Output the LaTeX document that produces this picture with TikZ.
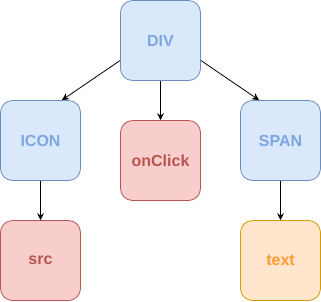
\documentclass[tikz,border=0pt]{standalone}
\usepackage{fontspec}
\setmainfont{Liberation Sans}
\usetikzlibrary{arrows.meta}
\definecolor{bfill}{HTML}{DAE8FC}
\definecolor{bdraw}{HTML}{6C8EBF}
\definecolor{btext}{HTML}{7EA6E0}
\definecolor{rfill}{HTML}{F8CECC}
\definecolor{rdraw}{HTML}{B85450}
\definecolor{rtext}{HTML}{B85450}
\definecolor{ofill}{HTML}{FFE6CC}
\definecolor{odraw}{HTML}{D79B00}
\definecolor{otext}{HTML}{FF9933}
\tikzset{
  box/.style={rounded corners=12pt, minimum width=80pt, minimum height=80pt, inner sep=0pt, line width=0.8pt, font=\fontsize{16pt}{18pt}\selectfont\bfseries},
  bluebox/.style={box, fill=bfill, draw=bdraw, text=btext},
  redbox/.style={box, fill=rfill, draw=rdraw, text=rtext},
  orangebox/.style={box, fill=ofill, draw=odraw, text=otext},
  conn/.style={draw=black, line width=0.8pt, -{Stealth[length=7pt,width=7pt,inset=2.5pt]}}
}
\begin{document}
\begin{tikzpicture}[x=1pt,y=-1pt]
\useasboundingbox (0,0) rectangle (321,301);
\node[bluebox] (div) at (160.5,40.5) {DIV};
\node[bluebox] (icon) at (40.5,140.5) {ICON};
\node[redbox] (onclick) at (160.5,160.5) {onClick};
\node[bluebox] (span) at (280.5,140.5) {SPAN};
\node[redbox] (src) at (40.5,260.5) {src};
\node[orangebox] (txt) at (280.5,260.5) {text};
\draw[conn] (div.west |- 0,60.5) -- (icon.north -| 62,0);
\draw[conn] (div.east |- 0,60.5) -- (span.north -| 259,0);
\draw[conn] (div.south) -- (onclick.north);
\draw[conn] (icon.south) -- (src.north);
\draw[conn] (span.south) -- (txt.north);
\end{tikzpicture}
\end{document}
